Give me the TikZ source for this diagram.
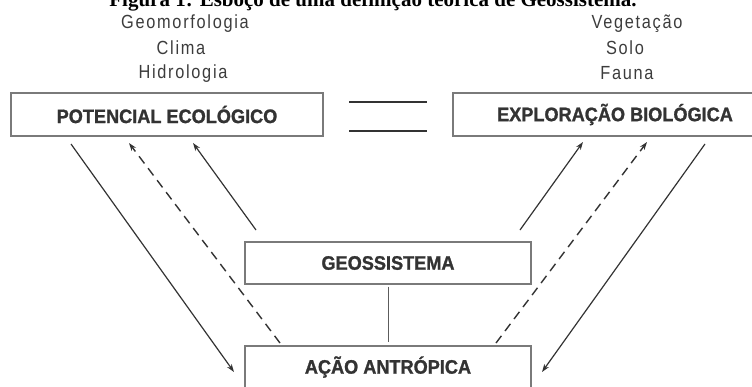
\documentclass[tikz,border=0pt]{standalone}
\usepackage{fontspec}
\setmainfont{Liberation Serif}
\newfontfamily\boxfont[FakeStretch=0.93,FakeBold=1.2]{Liberation Sans Bold}
\newfontfamily\topfont[FakeStretch=0.86,LetterSpace=9]{Liberation Sans}
\usetikzlibrary{arrows.meta}
\definecolor{boxline}{HTML}{7A7A7A}
\definecolor{ink}{HTML}{333333}
\definecolor{toptext}{HTML}{3C3C3C}
\tikzset{
  box/.style={draw=boxline, line width=1.3pt, minimum height=43pt, inner sep=0pt,
    font=\boxfont\fontsize{19.5}{21}\selectfont, text=ink},
  toplabel/.style={font=\topfont\fontsize{19}{21}\selectfont, text=toptext, inner sep=0pt},
  link/.style={draw=ink, line width=1.2pt, -{Stealth[length=8pt,width=5.5pt]}},
  dlink/.style={link, line width=1.4pt, dash pattern=on 9pt off 6pt},
  plain/.style={draw=boxline, line width=1.2pt}
}
\begin{document}
\begin{tikzpicture}[x=1pt,y=-1pt]
\useasboundingbox (0,0) rectangle (752,386);
% title (cut off at top)
\node[anchor=base, inner sep=0pt, font=\fontsize{21}{23}\selectfont\bfseries] (title) at (373,6.5) {Figura 1: Esboço de uma definição teórica de Geossistema.};
% top labels
\node[toplabel] (geom) at (185,24) {Geomorfologia};
\node[toplabel] (clima) at (181,48) {Clima};
\node[toplabel] (hidro) at (183,73.5) {Hidrologia};
\node[toplabel] (veg) at (637,24) {Vegetação};
\node[toplabel] (solo) at (625,48) {Solo};
\node[toplabel] (fauna) at (627,73.5) {Fauna};
% boxes
\node[box, minimum width=312pt] (pe) at (167,114.5) {POTENCIAL ECOLÓGICO};
\node[box, minimum width=324pt] (eb) at (615,114.5) {EXPLORAÇÃO BIOLÓGICA};
\node[box, minimum width=286pt, minimum height=42pt] (geo) at (388,263) {GEOSSISTEMA};
\node[box, minimum width=286pt, minimum height=42pt] (acao) at (388,367) {AÇÃO ANTRÓPICA};
% equality lines
\coordinate (e1a) at (349,102); \coordinate (e1b) at (427,102);
\coordinate (e2a) at (349,131); \coordinate (e2b) at (427,131);
\draw[plain, draw=ink] (e1a) -- (e1b);
\draw[plain, draw=ink] (e2a) -- (e2b);
% geo - acao
\draw[plain, draw=ink!80, line width=1pt, shorten <=2pt, shorten >=3pt] (geo.south) -- (acao.north);
% left arrows
\coordinate (l1s) at (71,144);  \coordinate (l1e) at (234,372);
\coordinate (l2s) at (280,343); \coordinate (l2e) at (129,143);
\coordinate (l3s) at (256,230); \coordinate (l3e) at (193,143);
\draw[link] (l1s) -- (l1e);
\draw[dlink] (l2s) -- (l2e);
\draw[link] (l3s) -- (l3e);
% right arrows
\coordinate (r1s) at (705,144); \coordinate (r1e) at (542,372);
\coordinate (r2s) at (496,343); \coordinate (r2e) at (647,142);
\coordinate (r3s) at (520,230); \coordinate (r3e) at (583,142);
\draw[link] (r1s) -- (r1e);
\draw[dlink] (r2s) -- (r2e);
\draw[link] (r3s) -- (r3e);
\end{tikzpicture}
\end{document}
